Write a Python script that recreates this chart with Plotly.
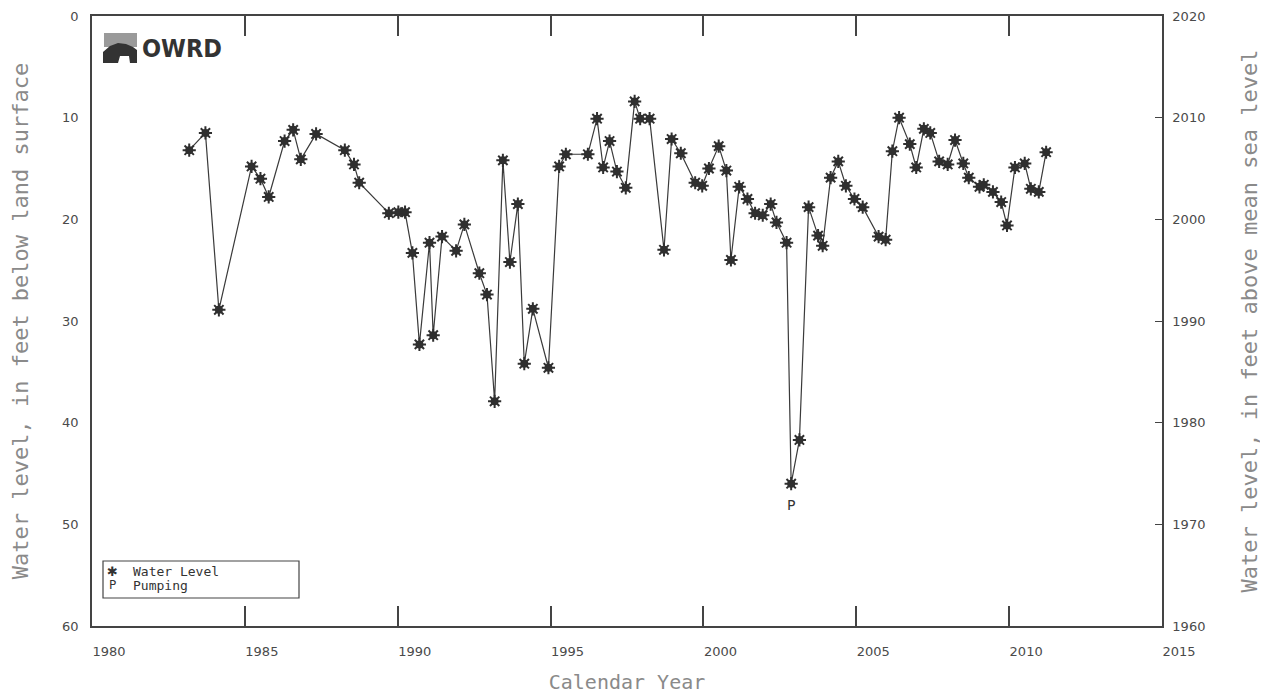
import plotly.graph_objects as go

# ---- data ----
years = [1983.18, 1983.71, 1984.15, 1985.22, 1985.51, 1985.78, 1986.30, 1986.58, 1986.83, 1987.33,
         1988.27, 1988.57, 1988.74, 1989.71, 1990.02, 1990.24, 1990.48, 1990.71, 1991.04, 1991.16,
         1991.45, 1991.91, 1992.18, 1992.67, 1992.92, 1993.17, 1993.44, 1993.67, 1993.93, 1994.14,
         1994.42, 1994.93, 1995.28, 1995.50, 1996.22, 1996.52, 1996.72, 1996.93, 1997.17, 1997.46,
         1997.75, 1997.93, 1998.24, 1998.71, 1998.96, 1999.26, 1999.73, 1999.96, 2000.18, 2000.50,
         2000.75, 2000.90, 2001.17, 2001.44, 2001.69, 2001.94, 2002.20, 2002.39, 2002.72, 2002.87,
         2003.14, 2003.44, 2003.75, 2003.90, 2004.16, 2004.41, 2004.66, 2004.94, 2005.21, 2005.73,
         2005.96, 2006.18, 2006.40, 2006.75, 2006.96, 2007.21, 2007.42, 2007.71, 2007.99, 2008.23,
         2008.50, 2008.68, 2009.03, 2009.17, 2009.47, 2009.74, 2009.93, 2010.19, 2010.51, 2010.71,
         2010.97, 2011.21]
depth_ft = [13.2, 11.5, 28.9, 14.8, 16.0, 17.8, 12.3, 11.2, 14.1, 11.6,
            13.2, 14.6, 16.4, 19.4, 19.3, 19.3, 23.3, 32.3, 22.3, 31.4,
            21.7, 23.1, 20.5, 25.3, 27.4, 37.9, 14.2, 24.2, 18.5, 34.2,
            28.8, 34.6, 14.8, 13.6, 13.6, 10.1, 14.9, 12.3, 15.3, 16.9,
            8.4, 10.1, 10.1, 23.0, 12.1, 13.5, 16.4, 16.7, 15.0, 12.8,
            15.2, 24.0, 16.8, 18.0, 19.4, 19.6, 18.5, 20.3, 22.3, 46.0,
            41.7, 18.8, 21.6, 22.6, 15.9, 14.3, 16.7, 18.0, 18.8, 21.7,
            22.0, 13.3, 10.0, 12.6, 14.9, 11.1, 11.5, 14.3, 14.6, 12.2,
            14.5, 15.9, 16.8, 16.6, 17.3, 18.3, 20.6, 14.9, 14.5, 17.0,
            17.3, 13.4]
pumping_index = [59]          # measurement flagged "P" (pumping)
land_surface_elev = 2020      # ft above mean sea level

x_ticks = [1980, 1985, 1990, 1995, 2000, 2005, 2010, 2015]
y_ticks = [0, 10, 20, 30, 40, 50, 60]
y2_ticks = [1960, 1970, 1980, 1990, 2000, 2010, 2020]

pump_x = [years[i] for i in pumping_index]
pump_y = [depth_ft[i] for i in pumping_index]
elev = [land_surface_elev - d for d in depth_ft]

INK = "#2f2f2f"
TXT = "#4a4a4a"
TITLE = "#8a8a8a"

fig = go.Figure()
fig.add_trace(go.Scatter(x=years, y=depth_ft, mode="lines",
                         line=dict(color="#3a3a3a", width=1.2),
                         showlegend=False, hoverinfo="skip"))
fig.add_trace(go.Scatter(x=years, y=depth_ft, mode="markers",
                         marker=dict(symbol="circle", size=8, color=INK),
                         showlegend=False, name="Water Level"))
fig.add_trace(go.Scatter(x=years, y=depth_ft, mode="markers",
                         marker=dict(symbol="asterisk-open", size=11, color=INK,
                                     line=dict(color=INK, width=2)),
                         showlegend=False, hoverinfo="skip"))
# elevation counterpart on the right axis (invisible, keeps axis alive)
fig.add_trace(go.Scatter(x=years, y=elev, yaxis="y2", mode="markers",
                         marker=dict(opacity=0), showlegend=False, hoverinfo="skip"))

# pumping flag label
for px_, py_ in zip(pump_x, pump_y):
    fig.add_annotation(x=px_, y=py_, xref="x", yref="y", text="P", showarrow=False,
                       yshift=-21, font=dict(family="DejaVu Sans", size=14, color="#333"))

OFF = 8  # page body margin
W, H = 1268, 696
L, T = 92 - OFF, 16 - OFF
pw, ph = 1070, 610
R = W - L - pw
B = H - T - ph

def px2paper(px, py):
    # page pixel coordinates -> paper fraction
    fx = px - OFF
    fy = py - OFF
    return (fx - L) / pw, (T + ph - fy) / ph

fig.update_layout(
    width=W, height=H,
    margin=dict(l=L, r=R, t=T, b=B, autoexpand=False),
    paper_bgcolor="white", plot_bgcolor="white",
    xaxis=dict(range=[1980, 2015], tickvals=x_ticks, ticktext=[str(v) for v in x_ticks],
               showgrid=False, zeroline=False, automargin=False,
               showline=True, linecolor="#444", linewidth=1.5, mirror="ticks",
               ticks="inside", ticklen=20, tickcolor="#444", tickwidth=1.5,
               ticklabelshift=17, ticklabelstandoff=13,
               tickfont=dict(family="DejaVu Sans", size=13, color=TXT),
               title=dict(text="Calendar Year", standoff=17,
                          font=dict(family="DejaVu Sans Mono", size=20, color=TITLE))),
    yaxis=dict(range=[60, 0], tickvals=y_ticks, showgrid=False, zeroline=False,
               automargin=False,
               showline=True, linecolor="#444", linewidth=1.5,
               ticks="", ticklabelstandoff=9,
               tickfont=dict(family="DejaVu Sans", size=13, color=TXT),
               title=dict(text="Water level, in feet below land surface", standoff=30,
                          font=dict(family="DejaVu Sans Mono", size=22, color=TITLE))),
    yaxis2=dict(range=[1960, 2020], tickvals=y2_ticks, overlaying="y", side="right",
                showgrid=False, zeroline=False, automargin=False,
                showline=True, linecolor="#444", linewidth=1.5,
                ticks="inside", ticklen=7, tickcolor="#444",
                ticklabelstandoff=6,
                tickfont=dict(family="DejaVu Sans", size=13, color=TXT),
                title=dict(text="Water level, in feet above mean sea level", standoff=37,
                           font=dict(family="DejaVu Sans Mono", size=22, color=TITLE))),
)

# ---- legend box (drawn manually) ----
x0, y0 = px2paper(103, 561)
x1, y1 = px2paper(299, 598)
fig.add_shape(type="rect", xref="paper", yref="paper", x0=x0, y0=y0, x1=x1, y1=y1,
              line=dict(color="#444", width=1.2), fillcolor="white")

def label(px, py, text, size, family, anchor="left"):
    ax_, ay_ = px2paper(px, py)
    fig.add_annotation(xref="paper", yref="paper", x=ax_, y=ay_, text=text,
                       xanchor=anchor, yanchor="middle", showarrow=False,
                       font=dict(family=family, size=size, color="#333"))

label(112, 571, "✱", 13, "DejaVu Sans", "center")
label(131, 571, "Water Level", 13, "DejaVu Sans Mono")
label(112, 585, "P", 12, "DejaVu Sans", "center")
label(131, 585, "Pumping", 13, "DejaVu Sans Mono")

# ---- OWRD logo ----
def path_from_px(points):
    pts = [px2paper(a, b) for a, b in points]
    return "M " + " L ".join(f"{a:.5f},{b:.5f}" for a, b in pts) + " Z"

fig.add_shape(type="path", xref="paper", yref="paper",
              path=path_from_px([(104, 33), (137, 33), (137, 47), (104, 47)]),
              fillcolor="#9a9a9a", line=dict(width=0))
fig.add_shape(type="path", xref="paper", yref="paper",
              path=path_from_px([(103, 63), (103, 52), (110, 46), (118, 43), (126, 44),
                                 (133, 47), (137, 50), (137, 63), (130, 63), (129, 56),
                                 (120, 56), (118, 63)]),
              fillcolor="#333333", line=dict(width=0))
ox, oy = px2paper(140, 48)
fig.add_annotation(xref="paper", yref="paper", x=ox, y=oy, text="<b>OWRD</b>",
                   xanchor="left", yanchor="middle", showarrow=False,
                   font=dict(family="DejaVu Sans Condensed", size=25, color="#333"))

fig.write_html("out.html")
